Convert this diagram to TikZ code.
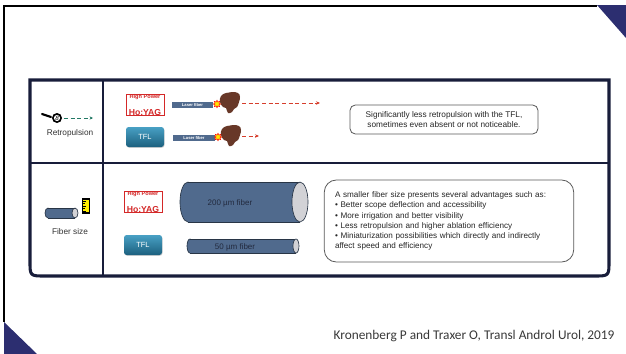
\documentclass[tikz,border=0pt]{standalone}
\usepackage{fontspec}
\setmainfont{Liberation Sans}
\newfontfamily\refont{Carlito}
\usetikzlibrary{positioning,shapes.geometric,arrows.meta,shadows}

\definecolor{navy}{RGB}{24,29,58}
\definecolor{indigo}{RGB}{44,46,112}
\definecolor{steel}{RGB}{80,106,141}
\definecolor{capgray}{RGB}{210,210,214}
\definecolor{laserred}{RGB}{214,62,44}
\definecolor{cuegreen}{RGB}{34,120,100}
\definecolor{stonebrown}{RGB}{104,56,40}
\definecolor{hored}{RGB}{212,40,40}
\definecolor{tfltop}{RGB}{72,160,196}
\definecolor{tflbot}{RGB}{28,96,126}
\definecolor{tubeink}{RGB}{34,42,62}

\newcommand\hoyagtext{{\fontsize{4.2}{4.4}\selectfont\bfseries High Power}\\[0.3pt]{\fontsize{6.5}{6.5}\selectfont\bfseries Ho:YAG}}
\newcommand\notefont{\fontsize{6.1}{7.6}\selectfont}
% fiber tube: centre x, centre y, half length, radius, end radius
\newcommand\fibertube[5]{%
  \filldraw[tubeline, fill=steel] (#1-#3+#5,#2) ellipse [x radius=#5, y radius=#4];
  \fill[steel] (#1-#3+#5,#2-#4) rectangle (#1+#3-#5,#2+#4);
  \draw[tubeline] (#1-#3+#5,#2-#4) -- (#1+#3-#5,#2-#4) (#1-#3+#5,#2+#4) -- (#1+#3-#5,#2+#4);
  \filldraw[tubeline, fill=capgray] (#1+#3-#5,#2) ellipse [x radius=#5, y radius=#4];
}

\tikzset{every picture/.style={line width=0.75pt}}
\tikzset{
  frame/.style={navy, line width=2.3pt},
  divider/.style={navy, line width=1.8pt},
  rowlabel/.style={font=\fontsize{6.2}{6.2}\selectfont, text=black!80, inner sep=0pt},
  hoyag/.style={draw=hored, line width=0.7pt, fill=white, minimum width=28.5pt, minimum height=15pt, inner sep=0pt, text=hored, align=center},
  tflbtn/.style={rounded corners=2pt, top color=tfltop, bottom color=tflbot, minimum width=28.5pt, minimum height=15pt, inner sep=0pt, text=white, font=\fontsize{5.6}{5.6}\selectfont,
    drop shadow={shadow xshift=0.4pt, shadow yshift=-0.6pt, opacity=0.35}},
  fiberbar/.style={fill=steel, minimum width=31pt, minimum height=5pt, inner sep=0pt, text=white, font=\fontsize{3.1}{3.1}\selectfont\bfseries},
  tubeline/.style={draw=steel!50!black, line width=0.5pt},
  tubetext/.style={inner sep=0pt, text=tubeink, font=\fontsize{6}{6}\selectfont},
  notebox/.style={draw=black!65, line width=0.6pt, fill=white, text=black!85, font=\notefont},
  zap/.style={star, star points=8, star point ratio=1.7, fill=yellow!90!orange, draw=red!85!orange, line width=0.4pt, minimum size=5.5pt, inner sep=0pt},
  shot/.style={laserred, densely dashed, line width=0.6pt, -{Stealth[length=3pt,width=2.6pt]}},
  stone/.pic={
    \fill[stonebrown] plot[smooth cycle, tension=0.7] coordinates {(-9,6) (-10,0) (-7,-5) (-4,-6) (-2,-11) (2,-10) (4,-7) (7,-5) (9,0) (10,5) (8,9) (2,10) (-4,9)};
  }
}

\begin{document}
\begin{tikzpicture}[x=0.75pt,y=0.75pt,yscale=-1,xscale=1]
\useasboundingbox (0,0) rectangle (626,354);

%slide edge and corner triangles
\draw[line width=1.5pt] (4,322) -- (4,6) -- (597,6);
\fill[indigo] (597,5) -- (626,5) -- (626,38) -- cycle;
\fill[indigo] (4,322) -- (37,354) -- (4,354) -- cycle;

%table
\draw[frame] (30,80) -- (609,80) -- (609,261) .. controls (609,276) .. (594,276) -- (45,276) .. controls (30,276) .. (30,261) -- cycle;
\draw[divider] (103,80) -- (103,276);
\draw[divider] (30,163) -- (609,163);

%first row: retropulsion
\draw[line width=1.6pt, line cap=round] (42,114) -- (51,117);
\node[circle, fill=black, minimum size=7.5pt, inner sep=0pt] (ball) at (57,118) {};
\node[circle, fill=white, minimum size=4.6pt, inner sep=0pt, font=\fontsize{4.6}{4.6}\selectfont\itshape] (eight) at (ball) {8};
\coordinate (ballend) at (93,118);
\draw[cuegreen, densely dashed, line width=0.6pt, -{Stealth[length=2.6pt,width=2.4pt]}] ([xshift=1pt]ball.east) -- (ballend);
\node[rowlabel] (retro) at (70,133) {Retropulsion};

\node[hoyag] (hoA) at (145,105) {\hoyagtext};
\node[tflbtn] (tflA) at (145,137) {TFL};
\node[fiberbar] (lfA) at (192.5,105) {Laser fiber};
\node[fiberbar] (lfB) at (194,138) {Laser fiber};
\pic at (230,102) {stone};
\pic at (231,135) {stone};
\node[zap] (zapA) at (217,104) {};
\node[zap] (zapB) at (218,137) {};
\coordinate (hitA) at (242,103);
\coordinate (endA) at (320,103);
\coordinate (hitB) at (242,136);
\coordinate (endB) at (259,136);
\draw[shot] (hitA) -- (endA);
\draw[shot] (hitB) -- (endB);

\node[notebox, rounded corners=4pt, minimum width=141pt, minimum height=21.75pt, align=center, font=\fontsize{6.2}{7.6}\selectfont] (noteA) at (444,119.5)
  {Significantly less retropulsion with the TFL,\\sometimes even absent or not noticeable.};

%second row: fiber size
\fibertube{61.5}{213}{16.5}{5}{3}
\node[draw=black, fill=yellow!95!orange, line width=0.8pt, minimum width=5pt, minimum height=10.5pt, inner sep=0pt] (ruler) at (86,206) {};
\foreach \t/\l in {201/3,203.5/2,206/3,208.5/2,211/3}
  \draw[line width=0.4pt] (83,\t) -- ++(\l,0);
\node[rowlabel] (fsize) at (70,231.5) {Fiber size};

\node[hoyag] (hoB) at (143,202) {\hoyagtext};
\node[tflbtn] (tflB) at (143,245) {TFL};
\fibertube{244}{202}{64}{20}{8}
\node[tubetext] (tubeA) at (230,203) {200 µm fiber};
\fibertube{243}{246}{56}{7}{3}
\node[tubetext] (tubeB) at (235,247) {50 µm fiber};

\node[notebox, rounded corners=9pt, text width=171pt, inner xsep=8pt, minimum height=61.5pt, align=left] (noteB) at (449,221)
  {A smaller fiber size presents several advantages such as:\\
   \textbullet\ Better scope deflection and accessibility\\
   \textbullet\ More irrigation and better visibility\\
   \textbullet\ Less retropulsion and higher ablation efficiency\\
   \textbullet\ Miniaturization possibilities which directly and indirectly\\
   affect speed and efficiency};

%reference
\node[anchor=east, inner sep=0pt, font=\refont\fontsize{10}{10}\selectfont, text=black!78] (cite) at (615,336)
  {Kronenberg P and Traxer O, Transl Androl Urol, 2019};
\end{tikzpicture}
\end{document}
